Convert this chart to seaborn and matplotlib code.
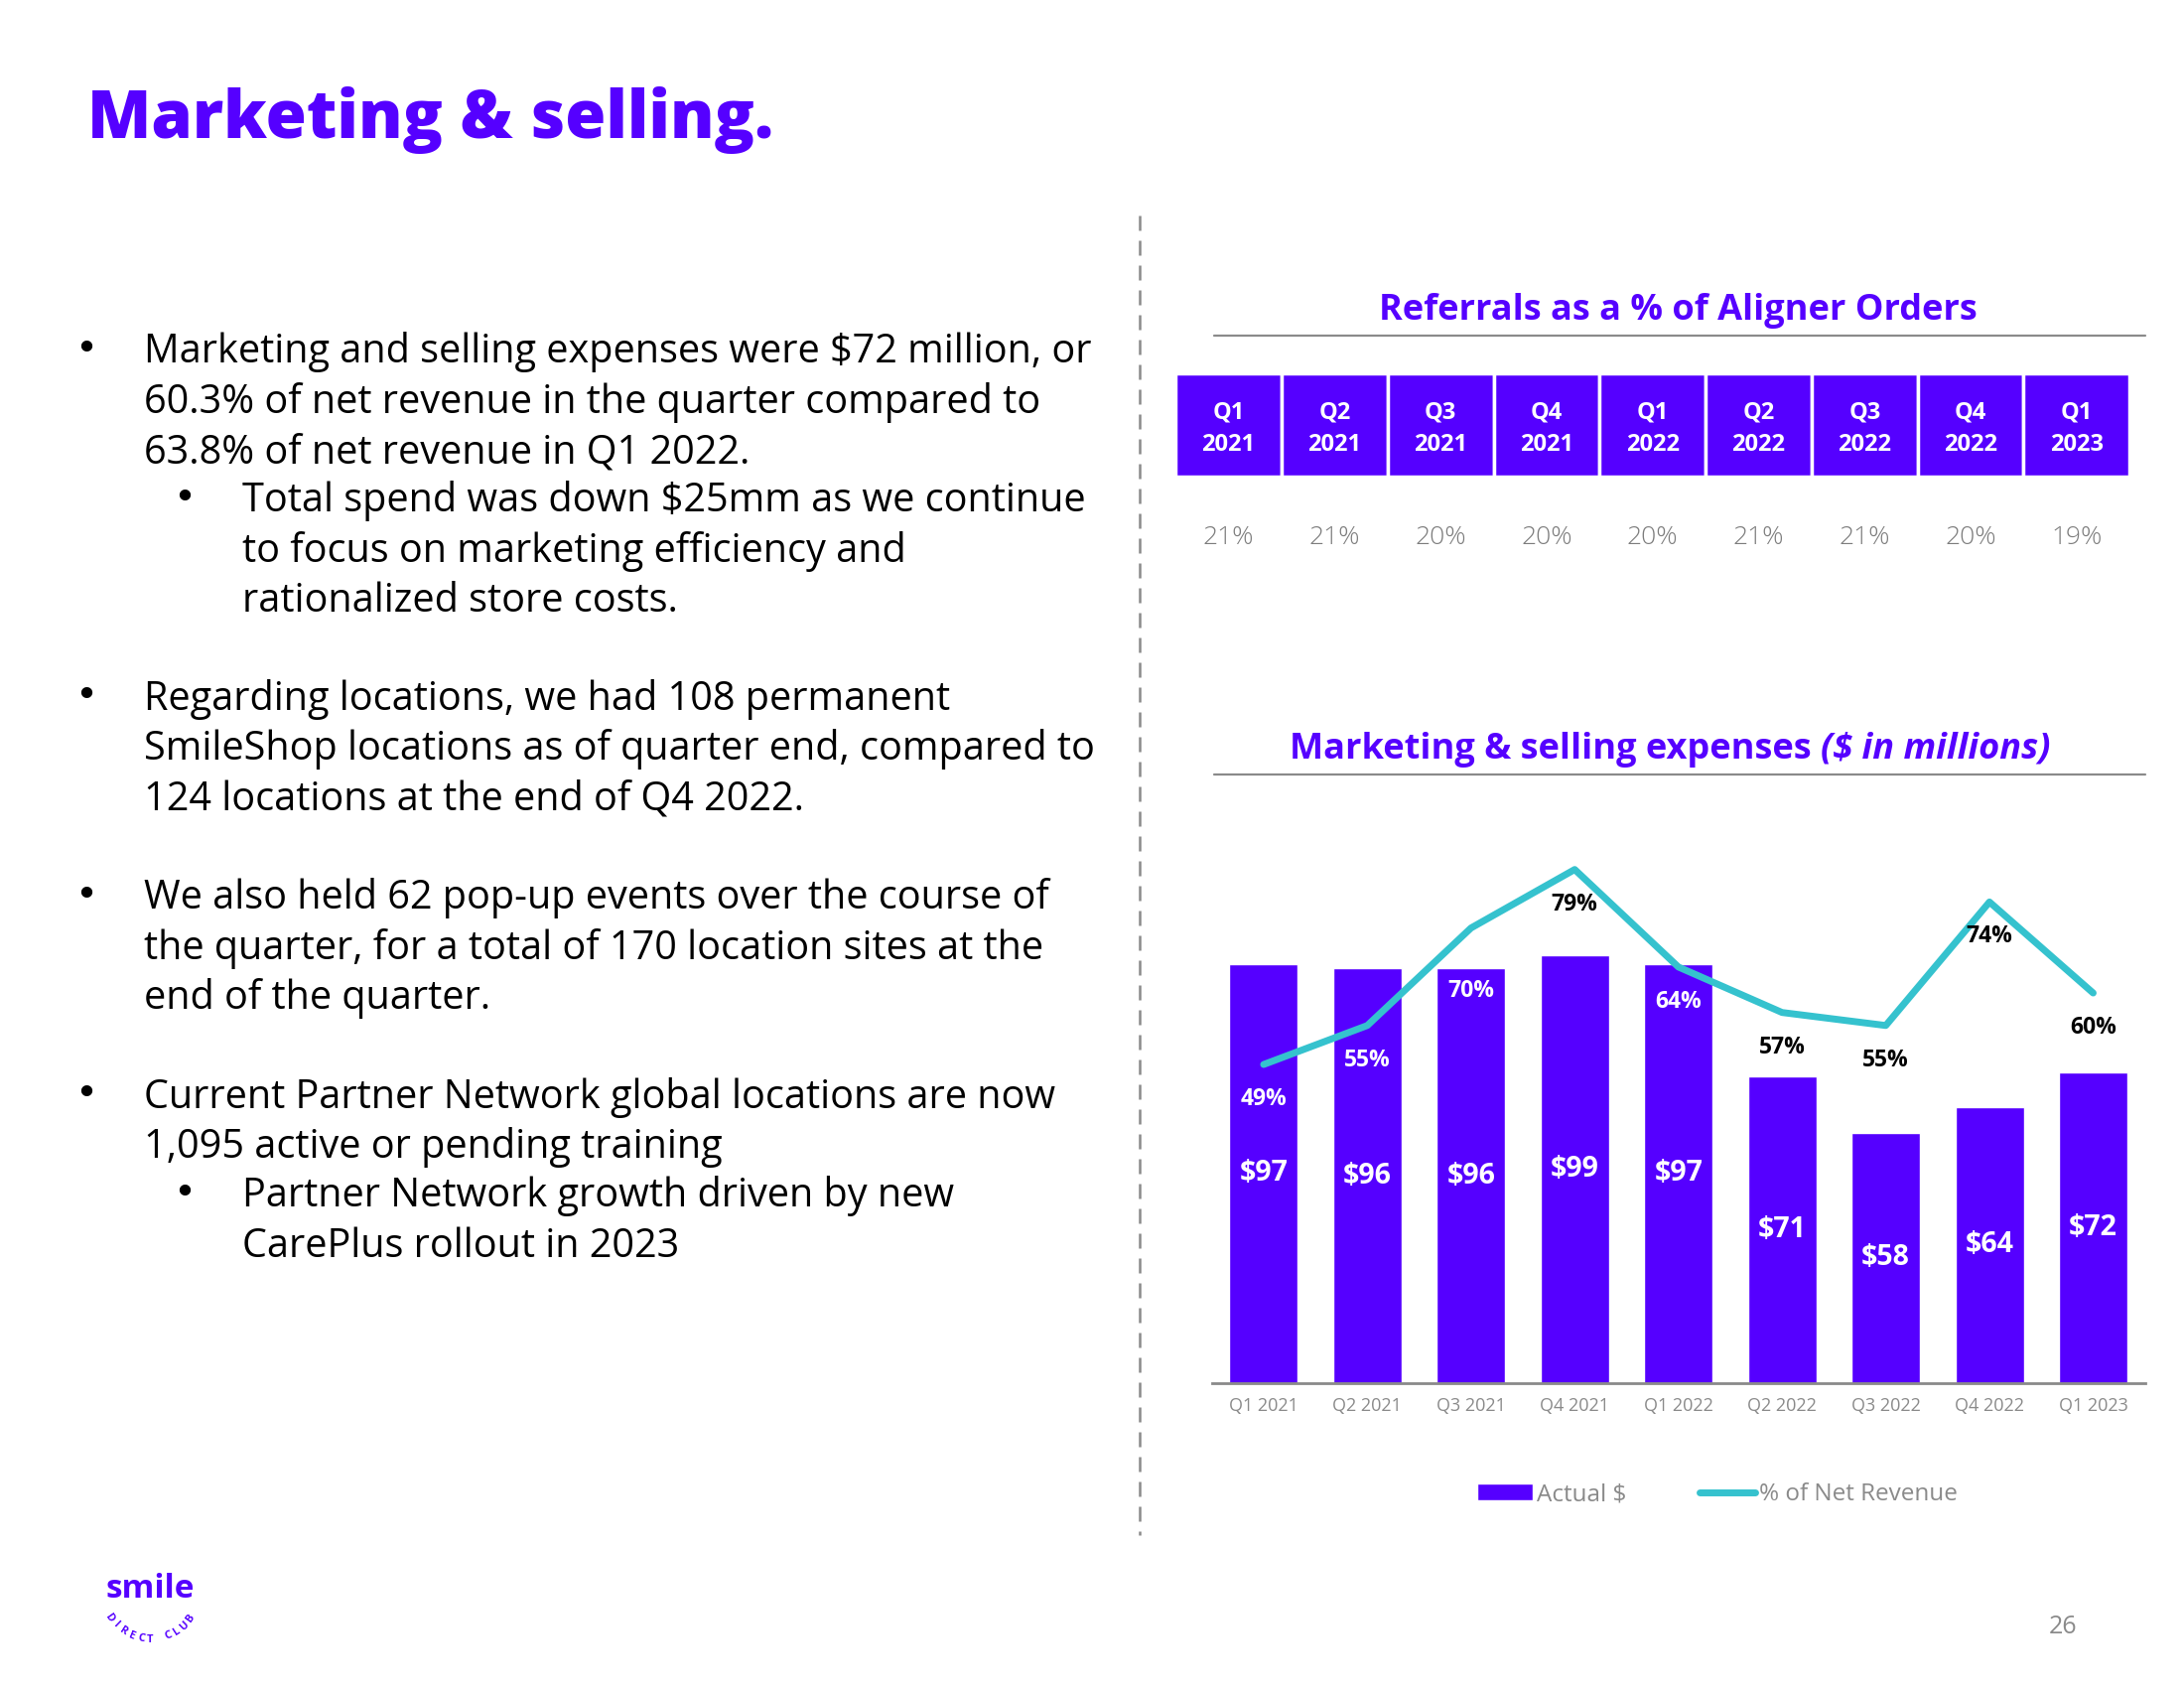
import numpy as np
import pandas as pd
import seaborn as sns
import matplotlib.pyplot as plt
from matplotlib.patches import Patch
from matplotlib.lines import Line2D

# data
quarters = ['Q1 2021', 'Q2 2021', 'Q3 2021', 'Q4 2021', 'Q1 2022',
            'Q2 2022', 'Q3 2022', 'Q4 2022', 'Q1 2023']
referral_pct = [21, 21, 20, 20, 20, 21, 21, 20, 19]
spend = [97, 96, 96, 99, 97, 71, 58, 64, 72]
pct_revenue = [49, 55, 70, 79, 64, 57, 55, 74, 60]

bullets = [
    (0, ["Marketing and selling expenses were $72 million, or",
         "60.3% of net revenue in the quarter compared to",
         "63.8% of net revenue in Q1 2022."]),
    (1, ["Total spend was down $25mm as we continue",
         "to focus on marketing efficiency and",
         "rationalized store costs."]),
    (0, ["Regarding locations, we had 108 permanent",
         "SmileShop locations as of quarter end, compared to",
         "124 locations at the end of Q4 2022."]),
    (0, ["We also held 62 pop-up events over the course of",
         "the quarter, for a total of 170 location sites at the",
         "end of the quarter."]),
    (0, ["Current Partner Network global locations are now",
         "1,095 active or pending training"]),
    (1, ["Partner Network growth driven by new",
         "CarePlus rollout in 2023"]),
]

PURPLE = '#5500FF'
CYAN = '#35C2CE'
GREY = '#8a8a8a'

sns.set_theme(style='white')
plt.rcParams['font.family'] = ['Open Sans', 'DejaVu Sans']
plt.rcParams['text.parse_math'] = False

fig = plt.figure(figsize=(22, 17), dpi=100)
W, H = 1568.0, 1212.0  # layout measured on the shrunk reference


def fx(x):
    return x / W


def fy(y):
    return 1 - y / H


# page title
fig.text(fx(63), fy(86), 'Marketing & selling.', fontsize=48, fontweight='heavy',
         color=PURPLE, va='center', ha='left')

# left bullet text
starts = [251, 358, 500, 643, 786, 857]
for (lvl, lines), y0 in zip(bullets, starts):
    bx = 62 if lvl == 0 else 132
    tx = 103 if lvl == 0 else 174
    fig.text(fx(bx), fy(y0), '\u2022', fontsize=28, color='black',
             family='DejaVu Sans', va='center', ha='center')
    for i, ln in enumerate(lines):
        fig.text(fx(tx), fy(y0 + 2 + i * 36), ln, fontsize=28.5, color='black',
                 va='center', ha='left')

# dashed divider
fig.add_artist(Line2D([fx(818), fx(818)], [fy(155), fy(1102)], color=GREY,
                      lw=1.8, ls=(0, (6, 4)), transform=fig.transFigure))

# referrals block
fig.text(fx(1205), fy(223), 'Referrals as a % of Aligner Orders', fontsize=26,
         fontweight='bold', color=PURPLE, ha='center', va='center')
fig.add_artist(Line2D([fx(872), fx(1540)], [fy(241), fy(241)], color=GREY, lw=1.6,
                      transform=fig.transFigure))

tab = fig.add_axes([fx(844), fy(342), fx(1529) - fx(844), fy(268) - fy(342)])
ref_df = pd.DataFrame({'quarter': quarters, 'cell': [1] * len(quarters),
                       'pct': referral_pct})
sns.barplot(data=ref_df, x='quarter', y='cell', color=PURPLE, width=1.0,
            edgecolor='white', linewidth=2.5, saturation=1, ax=tab)
tab.set_xlim(-0.5, len(quarters) - 0.5)
tab.set_ylim(0, 1)
tab.axis('off')
for i, q in enumerate(quarters):
    qq, yy = q.split()
    tab.text(i, 0.62, qq, color='white', fontsize=17, fontweight='bold',
             ha='center', va='center')
    tab.text(i, 0.31, yy, color='white', fontsize=17, fontweight='bold',
             ha='center', va='center')
    tab.text(i, -0.6, f'{referral_pct[i]}%', color='#7c7c7c', fontsize=19,
             fontweight='light', ha='center', va='center', clip_on=False)

# expenses title
fig.text(fx(1307), fy(538), 'Marketing & selling expenses ', fontsize=26,
         fontweight='bold', color=PURPLE, ha='right', va='center')
fig.text(fx(1307), fy(538), '($ in millions)', fontsize=26, fontweight='bold',
         style='italic', color=PURPLE, ha='left', va='center')
fig.add_artist(Line2D([fx(872), fx(1540)], [fy(556), fy(556)], color=GREY, lw=1.6,
                      transform=fig.transFigure))

# bar + line chart
ax = fig.add_axes([fx(870), fy(993), fx(1540) - fx(870), fy(600) - fy(993)])
exp_df = pd.DataFrame({'quarter': quarters, 'spend': spend, 'pct': pct_revenue})
sns.barplot(data=exp_df, x='quarter', y='spend', color=PURPLE, width=0.66,
            saturation=1, ax=ax)
ax.set_xlim(-0.5, len(quarters) - 0.5)
ax.set_ylim(0, 393 / 3.1)
ax.bar_label(ax.containers[0], labels=[f'${v}' for v in spend], label_type='center',
             color='white', fontsize=20.5, fontweight='bold')
ax.set_xlabel('')
ax.set_ylabel('')
ax.set_yticks([])
for s in ['top', 'left', 'right']:
    ax.spines[s].set_visible(False)
ax.spines['bottom'].set_color(GREY)
ax.spines['bottom'].set_linewidth(2)
ax.tick_params(axis='x', colors=GREY, labelsize=13, pad=10, length=0)

ax2 = ax.twinx()
sns.lineplot(x=np.arange(len(quarters)), y=pct_revenue, color=CYAN, lw=5,
             ax=ax2, legend=False)
ax2.set_ylim(0, 393 / 4.667)
ax2.set_yticks([])
for s in ax2.spines.values():
    s.set_visible(False)

fig.canvas.draw()
for i, p in enumerate(pct_revenue):
    dy = 45 if i == 2 else 25
    lab_px = ax2.transData.transform((i, p))[1] - dy * 1.403
    bar_px = ax.transData.transform((i, spend[i]))[1]
    c = 'white' if lab_px < bar_px - 12 else 'black'
    ax2.annotate(f'{p}%', (i, p), xytext=(0, -dy * 1.403 * 0.72),
                 textcoords='offset points', ha='center', va='center',
                 color=c, fontsize=16.5, fontweight='bold')

handles = [Patch(facecolor=PURPLE, label='Actual $'),
           Line2D([0], [0], color=CYAN, lw=5, label='% of Net Revenue')]
leg = fig.legend(handles=handles, loc='center', bbox_to_anchor=(fx(1233), fy(1073)),
                 ncol=2, frameon=False, fontsize=17.5, handlelength=2.3,
                 handletextpad=0.2, columnspacing=3.0)
for t in leg.get_texts():
    t.set_color(GREY)

# logo
fig.text(fx(108), fy(1141), 'smile', fontsize=24, fontweight='bold', color=PURPLE,
         ha='center', va='center')
cx, cy, r = 151.5, 1601.0, 50.0
word = 'DIRECT CLUB'
angs = np.linspace(-55, 55, len(word))
for ch, a in zip(word, angs):
    px = cx + r * np.sin(np.radians(a))
    py = cy + r * np.cos(np.radians(a))
    fig.text(px / 2200, 1 - py / 1700, ch, fontsize=8, fontweight='bold',
             color=PURPLE, ha='center', va='center', rotation=a)

# page number
fig.text(fx(1481), fy(1168), '26', fontsize=18, color=GREY, ha='center', va='center')

fig.savefig('out.png', dpi=100)
